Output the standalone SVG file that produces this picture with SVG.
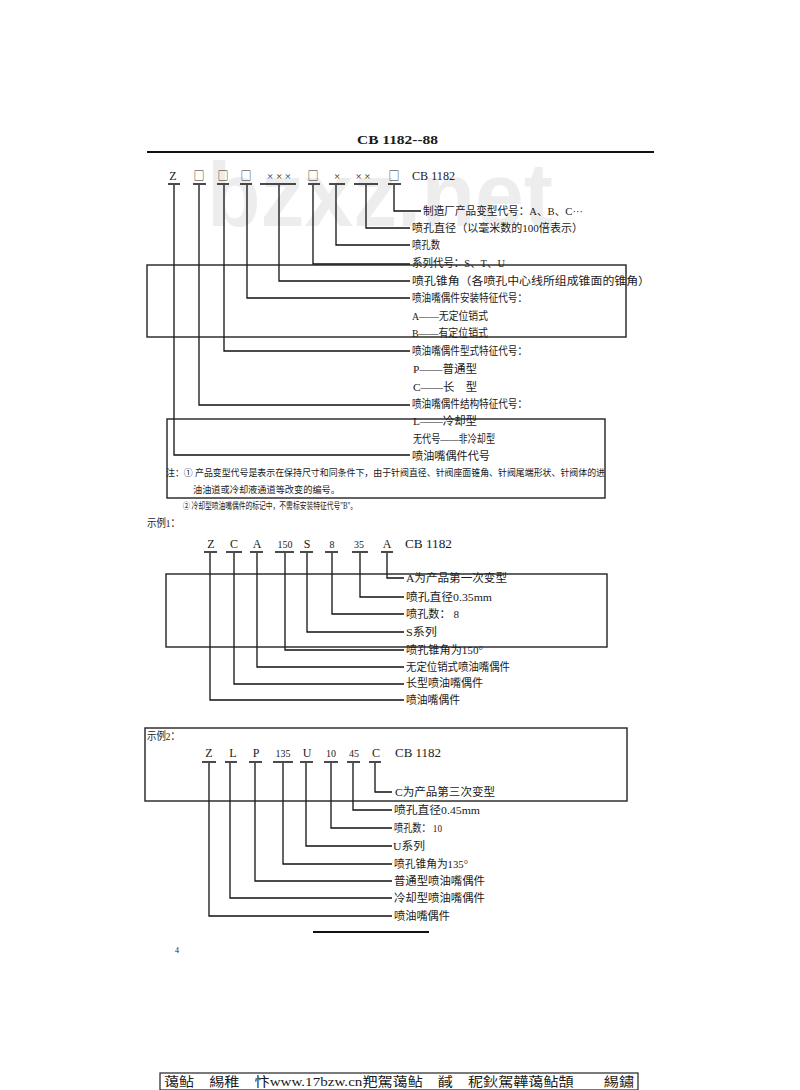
<svg xmlns="http://www.w3.org/2000/svg" width="800" height="1090" viewBox="0 0 800 1090">
<style>
.t{font-family:"Liberation Serif","Noto Sans CJK SC",serif;fill:#1a1a1a}
.l{font-size:11px}
.c{font-size:12px}
.sq{font-family:"Noto Sans CJK SC",sans-serif;font-size:11px}
.n{font-size:9.5px}
.ln{fill:none;stroke:#111;stroke-width:1.3}
.bar{fill:none;stroke:#111;stroke-width:1.6}
.box{fill:none;stroke:#222;stroke-width:1.4}
</style>
<rect width="800" height="1090" fill="#fff"/>
<text x="207" y="226" font-family="Liberation Sans,sans-serif" font-weight="bold" font-size="90" fill="#ededed" textLength="346" lengthAdjust="spacingAndGlyphs">bzxz.net</text>

<g id="header">
<text class="t" x="357" y="144" font-size="12" font-weight="bold" textLength="81" lengthAdjust="spacingAndGlyphs">CB 1182--88</text>
<line x1="147" y1="152" x2="654" y2="152" stroke="#111" stroke-width="1.8"/>
</g>

<g id="code1" class="t c">
<text x="173" y="180" text-anchor="middle">Z</text>
<text class="sq" x="199" y="180" text-anchor="middle">□</text>
<text class="sq" x="223" y="180" text-anchor="middle">□</text>
<text class="sq" x="246" y="180" text-anchor="middle">□</text>
<text x="279" y="180" text-anchor="middle" font-size="11">× × ×</text>
<text class="sq" x="313" y="180" text-anchor="middle">□</text>
<text x="337" y="180" text-anchor="middle" font-size="11">×</text>
<text x="363" y="180" text-anchor="middle" font-size="11">× ×</text>
<text class="sq" x="394" y="180" text-anchor="middle">□</text>
<text x="412" y="180" textLength="43" lengthAdjust="spacingAndGlyphs">CB 1182</text>
</g>

<g id="labels1" class="t l">
<text x="423" y="215" textLength="160" lengthAdjust="spacingAndGlyphs">制造厂产品变型代号：A、B、C···</text>
<text x="412" y="232" textLength="171" lengthAdjust="spacingAndGlyphs">喷孔直径（以毫米数的100倍表示）</text>
<text x="412" y="249" textLength="28" lengthAdjust="spacingAndGlyphs">喷孔数</text>
<text x="412" y="267" textLength="93" lengthAdjust="spacingAndGlyphs">系列代号：S、T、U</text>
<text x="412" y="285" textLength="238" lengthAdjust="spacingAndGlyphs">喷孔锥角（各喷孔中心线所组成锥面的锥角）</text>
<text x="412" y="302" textLength="115" lengthAdjust="spacingAndGlyphs">喷油嘴偶件安装特征代号：</text>
<text x="412" y="320" textLength="76" lengthAdjust="spacingAndGlyphs">A——无定位销式</text>
<text x="412" y="337" textLength="76" lengthAdjust="spacingAndGlyphs">B——有定位销式</text>
<text x="412" y="355" textLength="115" lengthAdjust="spacingAndGlyphs">喷油嘴偶件型式特征代号：</text>
<text x="413" y="373" textLength="64" lengthAdjust="spacingAndGlyphs">P——普通型</text>
<text x="413" y="391" textLength="64" lengthAdjust="spacingAndGlyphs">C——长　型</text>
<text x="412" y="408" textLength="115" lengthAdjust="spacingAndGlyphs">喷油嘴偶件结构特征代号：</text>
<text x="413" y="425" textLength="64" lengthAdjust="spacingAndGlyphs">L——冷却型</text>
<text x="413" y="443" textLength="82" lengthAdjust="spacingAndGlyphs">无代号——非冷却型</text>
<text x="412" y="460" textLength="78" lengthAdjust="spacingAndGlyphs">喷油嘴偶件代号</text>
</g>

<g id="notes" class="t n">
<text x="166" y="476" textLength="439" lengthAdjust="spacingAndGlyphs">注：① 产品变型代号是表示在保持尺寸和同条件下，由于针阀直径、针阀座面锥角、针阀尾端形状、针阀体的进</text>
<text x="193" y="493" textLength="147" lengthAdjust="spacingAndGlyphs">油油道或冷却液通道等改变的编号。</text>
<text x="183" y="509" textLength="174" lengthAdjust="spacingAndGlyphs">② 冷却型喷油嘴偶件的标记中，不需标安装特征代号"B"。</text>
</g>

<g id="ex1-title" class="t">
<text x="147" y="527" font-size="11" textLength="33" lengthAdjust="spacingAndGlyphs">示例1：</text>
</g>

<g id="code2" class="t c">
<text x="211" y="548" text-anchor="middle">Z</text>
<text x="234" y="548" text-anchor="middle">C</text>
<text x="257" y="548" text-anchor="middle">A</text>
<text x="285" y="548" text-anchor="middle" font-size="10">150</text>
<text x="307" y="548" text-anchor="middle">S</text>
<text x="332" y="548" text-anchor="middle" font-size="10">8</text>
<text x="359" y="548" text-anchor="middle" font-size="10">35</text>
<text x="387" y="548" text-anchor="middle">A</text>
<text x="405" y="548" textLength="47" lengthAdjust="spacingAndGlyphs">CB 1182</text>
</g>

<g id="labels2" class="t l">
<text x="406" y="582" textLength="101" lengthAdjust="spacingAndGlyphs">A为产品第一次变型</text>
<text x="406" y="601" textLength="86" lengthAdjust="spacingAndGlyphs">喷孔直径0.35mm</text>
<text x="406" y="618" textLength="53" lengthAdjust="spacingAndGlyphs">喷孔数： 8</text>
<text x="406" y="636" textLength="31" lengthAdjust="spacingAndGlyphs">S系列</text>
<text x="406" y="654" textLength="77" lengthAdjust="spacingAndGlyphs">喷孔锥角为150°</text>
<text x="406" y="671" textLength="104" lengthAdjust="spacingAndGlyphs">无定位销式喷油嘴偶件</text>
<text x="406" y="687" textLength="77" lengthAdjust="spacingAndGlyphs">长型喷油嘴偶件</text>
<text x="406" y="704" textLength="54" lengthAdjust="spacingAndGlyphs">喷油嘴偶件</text>
</g>

<g id="ex2-title" class="t">
<text x="147" y="740" font-size="11" textLength="33" lengthAdjust="spacingAndGlyphs">示例2：</text>
</g>

<g id="code3" class="t c">
<text x="209" y="757" text-anchor="middle">Z</text>
<text x="233" y="757" text-anchor="middle">L</text>
<text x="256" y="757" text-anchor="middle">P</text>
<text x="283" y="757" text-anchor="middle" font-size="10">135</text>
<text x="307" y="757" text-anchor="middle">U</text>
<text x="331" y="757" text-anchor="middle" font-size="10">10</text>
<text x="354" y="757" text-anchor="middle" font-size="10">45</text>
<text x="376" y="757" text-anchor="middle">C</text>
<text x="395" y="757" textLength="46" lengthAdjust="spacingAndGlyphs">CB 1182</text>
</g>

<g id="labels3" class="t l">
<text x="395" y="796" textLength="100" lengthAdjust="spacingAndGlyphs">C为产品第三次变型</text>
<text x="394" y="814" textLength="86" lengthAdjust="spacingAndGlyphs">喷孔直径0.45mm</text>
<text x="394" y="832" textLength="48" lengthAdjust="spacingAndGlyphs">喷孔数： 10</text>
<text x="393" y="850" textLength="32" lengthAdjust="spacingAndGlyphs">U系列</text>
<text x="394" y="868" textLength="74" lengthAdjust="spacingAndGlyphs">喷孔锥角为135°</text>
<text x="394" y="885" textLength="91" lengthAdjust="spacingAndGlyphs">普通型喷油嘴偶件</text>
<text x="394" y="902" textLength="91" lengthAdjust="spacingAndGlyphs">冷却型喷油嘴偶件</text>
<text x="394" y="920" textLength="56" lengthAdjust="spacingAndGlyphs">喷油嘴偶件</text>
</g>

<g id="connectors">
<g class="bar">
<path d="M168,184H180M193,184H206M217,184H229M240,184H252M260,184H296M308,184H320M329,184H345M354,184H378M388,184H401"/>
<path d="M204,552H217M226,552H242M250,552H263M275,552H294M300,552H313M325,552H338M352,552H368M381,552H393"/>
<path d="M202,762H216M225,762H237M249,762H262M273,762H293M300,762H313M324,762H338M347,762H360M369,762H381"/>
</g>
<g class="ln">
<path d="M394,185V211H421"/>
<path d="M366,185V228H410"/>
<path d="M336,185V245H410"/>
<path d="M313,185V264H410"/>
<path d="M279,185V281H410"/>
<path d="M247,185V298H410"/>
<path d="M224,185V351H410"/>
<path d="M199,185V405H410"/>
<path d="M174,185V455H410"/>

<path d="M387,553V578H404"/>
<path d="M360,553V597H404"/>
<path d="M332,553V614H404"/>
<path d="M307,553V632H404"/>
<path d="M285,553V650H404"/>
<path d="M257,553V667H404"/>
<path d="M234,553V684H404"/>
<path d="M210,553V700H404"/>

<path d="M375,763V792H392"/>
<path d="M353,763V810H392"/>
<path d="M331,763V828H392"/>
<path d="M306,763V846H392"/>
<path d="M283,763V864H392"/>
<path d="M255,763V881H392"/>
<path d="M230,763V898H392"/>
<path d="M209,763V916H392"/>
</g>
</g>

<g id="boxes" class="box">
<rect x="147" y="265" width="479" height="72"/>
<rect x="167" y="419" width="438" height="79"/>
<rect x="166" y="574" width="441" height="73"/>
<rect x="145" y="728" width="482" height="73"/>
</g>

<g id="footer-rule">
<line x1="313" y1="932" x2="429" y2="932" stroke="#111" stroke-width="2"/>
<text class="t" x="175" y="953" font-size="8" fill="#555">4</text>
</g>

<g id="footer">
<rect x="160" y="1073" width="478" height="17" fill="none" stroke="#222" stroke-width="1.2"/>
<text class="t" x="164" y="1086" font-size="13" textLength="470" lengthAdjust="spacingAndGlyphs">蔼鲇　緆稚　忭www.17bzw.cn羓駕蔼鲇　馘　秜鈥駕韡蔼鲇頶　　緆鏽</text>
</g>
</svg>
